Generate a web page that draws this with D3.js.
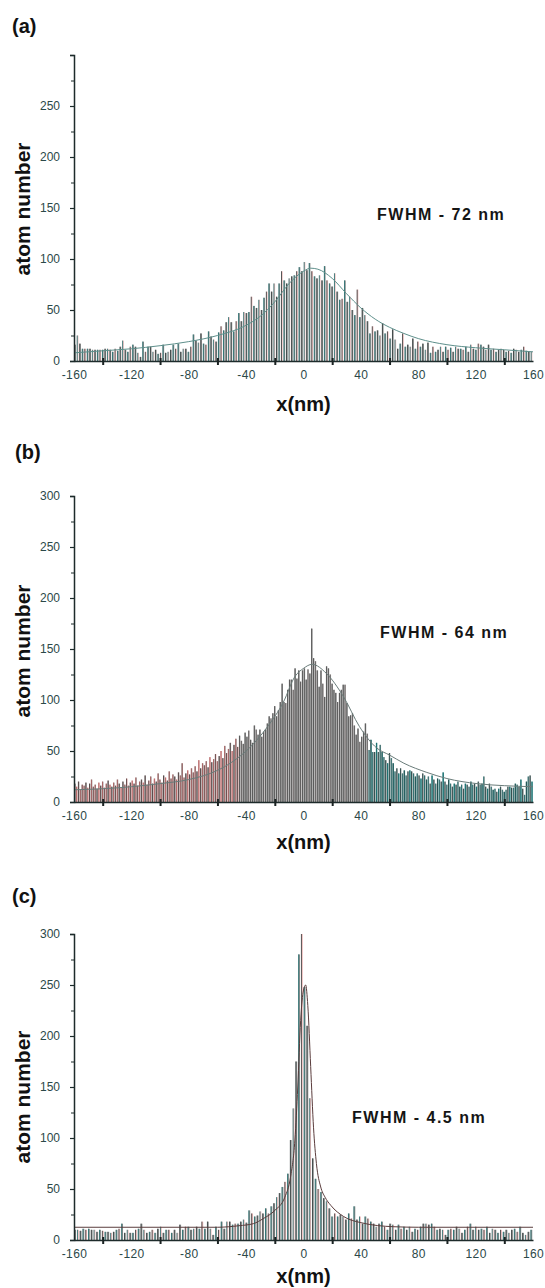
<!DOCTYPE html>
<html><head><meta charset="utf-8">
<script src="https://cdn.jsdelivr.net/npm/d3@7"></script>
<style>body{margin:0;background:#fff}svg{display:block}</style>
</head><body>
<svg id="chart" width="545" height="1288"></svg>
<script>
// ---------- data ----------
const xTickLabels = [-160, -120, -80, -40, 0, 40, 80, 120, 160];
const xTickMarks = [-140, -100, -60, -20, 20, 60, 100, 140];
const yTickLabels = [0, 50, 100, 150, 200, 250, 300];
const yMinorTicks = [25, 75, 125, 175, 225, 275];
const panelLetters = ["(a)", "(b)", "(c)"];
const fwhmLabels = ["FWHM - 72 nm", "FWHM - 64 nm", "FWHM - 4.5 nm"];

// histogram counts, bins spread evenly over -160..160 nm
const countsA = [
16,25,17,12,12,12,12,11,11,11, 11,11,12,12,11,9,12,10,14,20,
11,9,14,16,14,8,4,19,9,14, 14,9,11,7,8,16,8,9,11,16,
12,17,9,12,12,9,14,26,20,18, 27,17,16,29,24,21,19,28,34,30,
38,43,38,29,39,47,39,48,47,48, 63,54,52,60,50,62,68,76,68,76,
63,76,88,79,76,81,83,84,88,
92,88,97,89,96,88,83,81,84,79, 93,79,76,73,86,68,60,61,79,58,
63,50,45,70,43,52,45,39,27,34, 29,30,25,37,27,29,22,31,21,12,
17,27,14,16,14,22,12,19,14,17, 11,18,8,14,9,11,14,9,14,11,
13,9,14,12,12,11,14,9,16,12, 11,17,16,14,11,16,11,12,9,11,
12,11,9,10,8,12,11,9,11,14, 10,9,9
];
const countsB = [
18,15,20,12,17,16,19,14,18,22,15,17,13,19,16,20,14,18,21,17,15,19,16,22,18,14,20,17,23,16,19,
21,18,24,16,20,22,19,26,17,21,25,18,23,20,28,22,19,26,24,21,30,23,27,25,22,29,26,38,24,28,31,
27,33,29,35,30,41,33,38,36,40,34,44,39,42,47,40,45,50,43,55,48,52,58,50,56,62,54,65,60,57,68,64,70,
61,58,75,71,66,71,64,69,71,77, 84,82,87,94,84,90,98,116,98,97,
110,120,120,110,131,121,129,118,129,131, 120,130,126,170,141,138,129,113,129,116,
103,133,131,125,116,110,107,98,107,110, 115,115,97,84,85,87,75,66,72,59,
64,69,77,67,51,61,49,49,58,49, 56,
49,44,41,38,48,43,38,30,33,28, 33,28,31,26,30,31,30,28,25,28,
26,23,28,26,22,25,18,26,22,18, 23,22,20,29,20,17,22,18,15,18,
17,20,15,17,13,18,17,15,20,17, 18,15,20,17,18,25,15,13,18,15,
12,13,10,13,15,12,10,12,15,15, 14,14,18,17,15,22,13,7,20,25,
26,20
];
const countsC = [
10,10,9,11,10,11,10,10,8,10, 9,8,8,7,8,10,11,16,7,10,
7,7,10,11,16,10,7,8,10,7, 11,13,7,10,10,7,10,7,15,10,
13,13,10,11,13,11,18,11,18,11, 5,13,10,18,11,18,18,15,16,16,
18,20,17,29,26,23,24,28,26,31, 26,33,36,42,46,52,57,65,
98,129,175,280,300,248,210,139,80,60,50,47,41,38,31,
23,26,23,25,23,20,26,21,33,20, 23,16,23,21,18,16,13,16,18,13,
10,16,15,10,15,11,13,10,13,8, 11,10,13,16,16,15,16,13,10,11,
10,5,10,11,10,13,11,7,10,13, 16,10,13,10,11,10,13,7,11,10,
7,10,8,10,7,10,11,8,13,7, 5,8,10
];

// fitted curves as [x nm, atom number]
const fitA = [[-160,8],[-140,10],[-120,12],[-100,15],[-80,19],[-60,25],[-40,35],[-30,44],[-20,58],[-10,76],[0,88],[5,91],[10,90],[20,81],[30,66],[40,52],[50,41],[60,33],[70,27],[80,22],[100,16],[120,13],[140,11],[160,9]];
const fitB = [[-160,12],[-140,13],[-120,15],[-100,18],[-80,22],[-60,31],[-50,39],[-37,54],[-25,74],[-14,98],[-6,123],[0,131],[6,135],[16,126],[28,103],[39,74],[51,53],[60,46],[70,38],[86,29],[100,23],[121,18],[140,16],[160,15]];
const fitC = [[-160,12.5],[-60,12.5],[-45,14],[-35,16],[-28,21],[-20,29],[-13,42],[-9,62],[-6,98],[-4,150],[-2,215],[0,245],[1.5,250],[3,230],[5,170],[7,110],[9,75],[12,52],[15,42],[19,34],[28,23],[40,17],[63,13],[80,12.5],[160,12.5]];

// ---------- drawing ----------
const svg = d3.select("#chart");
const FONT = "'Liberation Sans', Arial, sans-serif";

const layout = [
  {counts: countsA, fit: fitA, base: 361, letterY: 33, letterX: 12, fwhmX: 377, fwhmY: 220, yLabelY: 209, xLabelY: 411, showTop: false, fitColor: "#5e8f8b", scheme: "a"},
  {counts: countsB, fit: fitB, base: 802, letterY: 459, letterX: 15, fwhmX: 380, fwhmY: 638, yLabelY: 651, xLabelY: 849, showTop: true, fitColor: "#6a7c7a", scheme: "b"},
  {counts: countsC, fit: fitC, base: 1240, letterY: 903, letterX: 12, fwhmX: 352, fwhmY: 1123, yLabelY: 1097, xLabelY: 1283, showTop: true, fitColor: "#5a3c3c", scheme: "c"}
];

function barFill(scheme, i, xv) {
  if (scheme === "b") {
    if (xv < -45) return (i % 3 === 1) ? "#d79a9a" : "#8d8585";
    if (xv > 45) return (i % 3 === 1) ? "#2f8585" : "#7f8a8a";
    return (i % 4 === 2) ? "#a8a0a0" : "#858585";
  }
  if (scheme === "a") return (i % 3 === 1) ? "#efbcbc" : "#8a8a8a";
  return (i % 3 === 1) ? "#eeb8b8" : "#8d8d8d";
}
function barEdge(scheme, i, xv) {
  if (scheme === "b") {
    if (xv < -45) return (i % 2) ? "#b05a5a" : "#4a3a3a";
    if (xv > 45) return (i % 2) ? "#186a6a" : "#1f3d3d";
    return "#4c4c4c";
  }
  return (i % 2) ? "#1c6f6f" : "#2f3a3a";
}

layout.forEach((p, k) => {
  const g = svg.append("g");
  const x = d3.scaleLinear().domain([-160, 160]).range([74, 533]);
  const y = d3.scaleLinear().domain([0, 300]).range([p.base, p.base - 306]);
  const n = p.counts.length;
  const bw = 320 / n;
  const pw = x(bw) - x(0);

  // bars
  g.selectAll("rect.bar").data(p.counts).join("rect")
    .attr("x", (d, i) => x(-160 + i * bw) + 0.3)
    .attr("width", pw * (p.scheme === "b" ? 0.72 : 0.62))
    .attr("y", d => y(d))
    .attr("height", d => y(0) - y(d))
    .attr("fill", (d, i) => barFill(p.scheme, i, -160 + (i + 0.5) * bw));
  g.selectAll("line.edge").data(p.counts).join("line")
    .attr("x1", (d, i) => x(-160 + i * bw) + 0.7)
    .attr("x2", (d, i) => x(-160 + i * bw) + 0.7)
    .attr("y1", d => y(d))
    .attr("y2", y(0))
    .attr("stroke", (d, i) => barEdge(p.scheme, i, -160 + (i + 0.5) * bw))
    .attr("stroke-width", 0.8);

  // fit curve
  const line = d3.line().x(d => x(d[0])).y(d => y(d[1])).curve(d3.curveMonotoneX);
  g.append("path").datum(p.fit).attr("d", line)
    .attr("fill", "none").attr("stroke", p.fitColor).attr("stroke-width", 1);

  // y axis
  const yAx = g.append("g").attr("transform", "translate(74,0)")
    .call(d3.axisLeft(y).tickValues(yTickLabels).tickSize(4).tickPadding(10)
      .tickFormat(d => (d === 300 && !p.showTop) ? "" : String(d)));
  yAx.select(".domain").attr("stroke", "#1d2b2b").attr("stroke-width", 1.5);
  yAx.selectAll(".tick line").attr("stroke", "#1d2b2b").attr("stroke-width", 1.2);
  yAx.selectAll("text").attr("font-family", FONT).attr("font-size", 12).attr("fill", "#2b4848");
  const yMin = g.append("g").attr("transform", "translate(74,0)")
    .call(d3.axisLeft(y).tickValues(yMinorTicks).tickSize(3).tickFormat(""));
  yMin.select(".domain").remove();
  yMin.selectAll(".tick line").attr("stroke", "#1d2b2b").attr("stroke-width", 1);

  // x axis
  const xAx = g.append("g").attr("transform", `translate(0,${p.base})`)
    .call(d3.axisBottom(x).tickValues(xTickLabels).tickSize(0).tickPadding(9)
      .tickFormat(d => String(d)));
  xAx.select(".domain").attr("stroke", "#1d2b2b").attr("stroke-width", 1.6);
  xAx.selectAll("text").attr("font-family", FONT).attr("font-size", 12)
    .attr("letter-spacing", 0.4).attr("fill", "#2b4848");
  const xMk = g.append("g").attr("transform", `translate(0,${p.base - 3})`)
    .call(d3.axisBottom(x).tickValues(xTickMarks).tickSize(7).tickFormat(""));
  xMk.select(".domain").remove();
  xMk.selectAll(".tick line").attr("stroke", "#1a2222").attr("stroke-width", 2);

  // texts
  g.append("text").attr("x", p.letterX).attr("y", p.letterY)
    .attr("font-family", FONT).attr("font-weight", "bold").attr("font-size", 20)
    .attr("fill", "#111").text(panelLetters[k]);
  g.append("text").attr("x", 303.5).attr("y", p.xLabelY)
    .attr("text-anchor", "middle")
    .attr("font-family", FONT).attr("font-weight", "bold").attr("font-size", 20)
    .attr("fill", "#111").text("x(nm)");
  g.append("text").attr("transform", `translate(30,${p.yLabelY}) rotate(-90)`)
    .attr("text-anchor", "middle")
    .attr("font-family", FONT).attr("font-weight", "bold").attr("font-size", 21)
    .attr("fill", "#111").text("atom number");
  g.append("text").attr("x", p.fwhmX).attr("y", p.fwhmY)
    .attr("font-family", FONT).attr("font-weight", "bold").attr("font-size", 16)
    .attr("letter-spacing", 1.5)
    .attr("fill", "#151515").text(fwhmLabels[k]);
});
</script>
</body></html>
